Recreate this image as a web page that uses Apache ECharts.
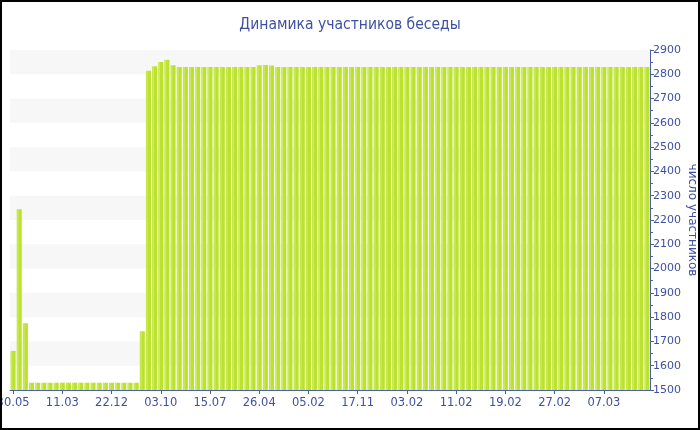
<!DOCTYPE html>
<html>
<head>
<meta charset="utf-8">
<script src="https://cdn.jsdelivr.net/npm/echarts@6/dist/echarts.min.js"></script>
<style>
html,body{margin:0;padding:0;background:#fff;}
#c{width:700px;height:430px;}
</style>
</head>
<body>
<div id="c"></div>
<script>
var tickLabels = ['30.05','11.03','22.12','03.10','15.07','26.04','05.02','17.11','03.02','11.02','19.02','27.02','07.03'];
var labelEvery = 8;
var members = [
  1661, 2244, 1775,
  1530, 1530, 1530, 1530, 1530, 1530, 1530, 1530, 1530,
  1530, 1530, 1530, 1530, 1530, 1530, 1530, 1530, 1530,
  1742, 2815, 2833, 2851, 2860, 2837,
  2830, 2830, 2830, 2830, 2830, 2830, 2830, 2830, 2830, 2830, 2830, 2830, 2830,
  2837, 2838, 2836,
  2830, 2830, 2830, 2830, 2830, 2830, 2830, 2830, 2830, 2830,
  2830, 2830, 2830, 2830, 2830, 2830, 2830, 2830, 2830, 2830,
  2830, 2830, 2830, 2830, 2830, 2830, 2830, 2830, 2830, 2830,
  2830, 2830, 2830, 2830, 2830, 2830, 2830, 2830, 2830, 2830,
  2830, 2830, 2830, 2830, 2830, 2830, 2830, 2830, 2830, 2830,
  2830, 2830, 2830, 2830, 2830, 2830, 2830, 2830, 2830, 2830,
  2830
];
var categories = members.map(function (v, i) {
  return (i % labelEvery === 0 && tickLabels[i / labelEvery]) ? tickLabels[i / labelEvery] : '';
});

var blue = '#3e51a0';
var axisBlue = '#4b5ea9';
var font = 'DejaVu Sans';

var chart = echarts.init(document.getElementById('c'), null, {renderer: 'canvas'});
chart.setOption({
  animation: false,
  backgroundColor: '#fff',
  title: {
    text: 'Динамика участников беседы',
    left: 'center',
    top: 12,
    textStyle: {color: blue, fontSize: 15.5, fontWeight: 'normal', fontFamily: 'DejaVu Sans Condensed, Liberation Sans Narrow, sans-serif'}
  },
  graphic: [{
    type: 'rect',
    shape: {x: 1, y: 1, width: 698, height: 428},
    style: {fill: 'none', stroke: '#000', lineWidth: 2},
    silent: true,
    z: 100
  }],
  grid: {left: 10, right: 50, top: 50, bottom: 40, outerBoundsMode: 'none'},
  xAxis: {
    type: 'category',
    data: categories,
    boundaryGap: true,
    axisLine: {lineStyle: {color: axisBlue, width: 1}},
    axisTick: {show: true, interval: labelEvery - 1, alignWithLabel: true, length: 4, lineStyle: {color: axisBlue}},
    axisLabel: {interval: labelEvery - 1, color: blue, fontSize: 11.5, fontFamily: font, margin: 7},
    splitLine: {show: false}
  },
  yAxis: {
    type: 'value',
    position: 'right',
    min: 1500,
    max: 2900,
    interval: 100,
    name: 'число участников',
    nameLocation: 'middle',
    nameRotate: -90,
    nameGap: 36,
    nameMoveOverlap: false,
    nameTextStyle: {color: blue, fontSize: 12, fontFamily: font},
    axisLine: {show: true, lineStyle: {color: axisBlue, width: 1}},
    axisTick: {show: true, length: 4, lineStyle: {color: axisBlue}},
    minorTick: {show: true, splitNumber: 2, length: 3, lineStyle: {color: axisBlue}},
    axisLabel: {color: blue, fontSize: 11, fontFamily: font, margin: 3, formatter: function (v) { return String(v); }},
    splitLine: {show: false},
    splitArea: {show: true, areaStyle: {color: ['rgba(255,255,255,0)', '#f7f7f7']}}
  },
  series: [{
    type: 'bar',
    data: members,
    barCategoryGap: '18%',
    itemStyle: {
      color: new echarts.graphic.LinearGradient(0, 0, 1, 0, [
        {offset: 0, color: '#bde22e'},
        {offset: 0.25, color: '#cfeb6a'},
        {offset: 0.45, color: '#bde22e'},
        {offset: 1, color: '#bde22e'}
      ])
    }
  }]
});
</script>
</body>
</html>
